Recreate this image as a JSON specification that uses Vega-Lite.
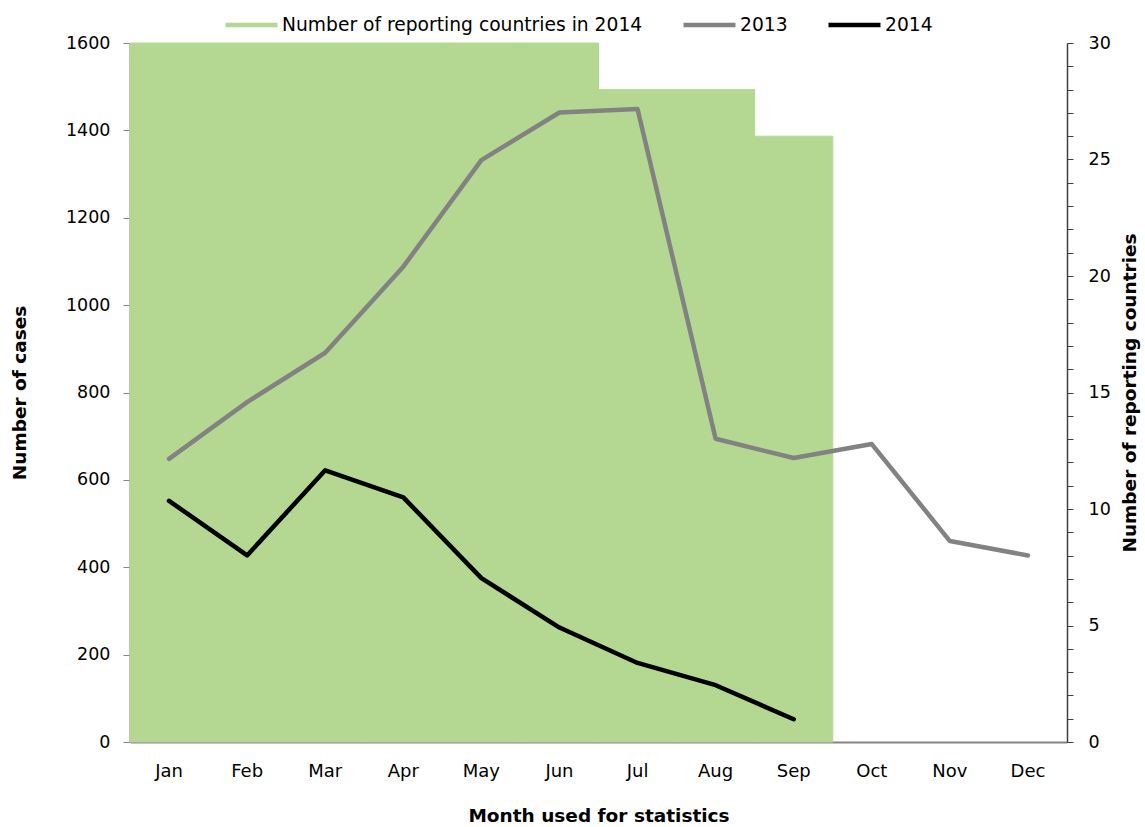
{
  "$schema": "https://vega.github.io/schema/vega-lite/v6.json",
  "width": 937,
  "height": 699,
  "autosize": {"type": "none"},
  "padding": {"left": 130, "top": 43, "right": 78, "bottom": 85},
  "background": "white",
  "config": {
    "view": {"stroke": null},
    "font": "DejaVu Sans",
    "axis": {"grid": false}
  },
  "datasets": {
    "countries": [
      {"month": "Jan", "countries": 30},
      {"month": "Feb", "countries": 30},
      {"month": "Mar", "countries": 30},
      {"month": "Apr", "countries": 30},
      {"month": "May", "countries": 30},
      {"month": "Jun", "countries": 30},
      {"month": "Jul", "countries": 28},
      {"month": "Aug", "countries": 28},
      {"month": "Sep", "countries": 26}
    ],
    "cases": [
      {"month": "Jan", "year": "2013", "cases": 648},
      {"month": "Feb", "year": "2013", "cases": 778},
      {"month": "Mar", "year": "2013", "cases": 891},
      {"month": "Apr", "year": "2013", "cases": 1088},
      {"month": "May", "year": "2013", "cases": 1332},
      {"month": "Jun", "year": "2013", "cases": 1441},
      {"month": "Jul", "year": "2013", "cases": 1449},
      {"month": "Aug", "year": "2013", "cases": 694},
      {"month": "Sep", "year": "2013", "cases": 650},
      {"month": "Oct", "year": "2013", "cases": 682},
      {"month": "Nov", "year": "2013", "cases": 460},
      {"month": "Dec", "year": "2013", "cases": 427},
      {"month": "Jan", "year": "2014", "cases": 552},
      {"month": "Feb", "year": "2014", "cases": 427},
      {"month": "Mar", "year": "2014", "cases": 622},
      {"month": "Apr", "year": "2014", "cases": 560},
      {"month": "May", "year": "2014", "cases": 375},
      {"month": "Jun", "year": "2014", "cases": 262},
      {"month": "Jul", "year": "2014", "cases": 181},
      {"month": "Aug", "year": "2014", "cases": 130},
      {"month": "Sep", "year": "2014", "cases": 52}
    ]
  },
  "encoding": {
    "x": {
      "field": "month",
      "type": "ordinal",
      "sort": ["Jan", "Feb", "Mar", "Apr", "May", "Jun", "Jul", "Aug", "Sep", "Oct", "Nov", "Dec"],
      "scale": {
        "domain": ["Jan", "Feb", "Mar", "Apr", "May", "Jun", "Jul", "Aug", "Sep", "Oct", "Nov", "Dec"],
        "paddingInner": 0,
        "paddingOuter": 0
      },
      "axis": {
        "title": "Month used for statistics",
        "labelAngle": 0,
        "ticks": false,
        "labelPadding": 20,
        "labelFontSize": 18,
        "labelColor": "#000000",
        "labelFont": "DejaVu Sans",
        "domainColor": "#868686",
        "domainWidth": 2,
        "titleFontSize": 18.5,
        "titleFontWeight": "bold",
        "titleColor": "#000000",
        "titleFont": "DejaVu Sans",
        "titlePadding": 26
      }
    }
  },
  "layer": [
    {
      "data": {"name": "countries"},
      "mark": {"type": "bar", "stroke": "#b4d892", "strokeWidth": 1},
      "encoding": {
        "y": {
          "field": "countries",
          "type": "quantitative",
          "scale": {"domain": [0, 30], "nice": false},
          "axis": {
            "orient": "right",
            "title": "Number of reporting countries",
            "titleAngle": 270,
            "values": [0,1,2,3,4,5,6,7,8,9,10,11,12,13,14,15,16,17,18,19,20,21,22,23,24,25,26,27,28,29,30],
            "labelExpr": "datum.value % 5 === 0 ? datum.label : ''",
            "tickSize": 6,
            "tickColor": "#404040",
            "domainColor": "#404040",
            "domainWidth": 1.5,
            "labelPadding": 15,
            "labelFont": "DejaVu Sans",
            "labelFontSize": 17.5,
            "labelColor": "#000000",
            "titleFont": "DejaVu Sans",
            "titleFontSize": 18.5,
            "titleFontWeight": "bold",
            "titleColor": "#000000",
            "titlePadding": 29
          }
        },
        "color": {
          "datum": "Number of reporting countries in 2014",
          "type": "nominal",
          "scale": {
            "domain": ["Number of reporting countries in 2014", "2013", "2014"],
            "range": ["#b4d892", "#828282", "#000000"]
          },
          "legend": {
            "title": null,
            "orient": "none",
            "direction": "horizontal",
            "legendX": 93,
            "legendY": -47,
            "symbolType": "stroke",
            "symbolSize": 2704,
            "symbolStrokeWidth": 4.5,
            "labelOffset": 2,
            "columnPadding": 31,
            "labelLimit": 500,
            "labelFont": "DejaVu Sans",
            "labelFontSize": 18.7,
            "labelColor": "#000000",
            "encode": {
              "symbols": {
                "strokeWidth": {
                  "condition": {"test": "datum.value === 'Number of reporting countries in 2014'", "value": 11},
                  "value": 4.5
                }
              }
            }
          }
        }
      }
    },
    {
      "data": {"name": "cases"},
      "mark": {"type": "line", "strokeWidth": 4.5, "strokeJoin": "round", "strokeCap": "round"},
      "encoding": {
        "y": {
          "field": "cases",
          "type": "quantitative",
          "scale": {"domain": [0, 1600], "nice": false},
          "axis": {
            "orient": "left",
            "title": "Number of cases",
            "values": [0, 200, 400, 600, 800, 1000, 1200, 1400, 1600],
            "format": "d",
            "tickSize": 7,
            "tickColor": "#868686",
            "domainColor": "#868686",
            "domainWidth": 2,
            "labelPadding": 13,
            "labelFont": "DejaVu Sans",
            "labelFontSize": 17.5,
            "labelColor": "#000000",
            "titleFont": "DejaVu Sans",
            "titleFontSize": 18.5,
            "titleFontWeight": "bold",
            "titleColor": "#000000",
            "titlePadding": 36
          }
        },
        "color": {"field": "year", "type": "nominal", "legend": null}
      }
    }
  ],
  "resolve": {"scale": {"y": "independent"}}
}
